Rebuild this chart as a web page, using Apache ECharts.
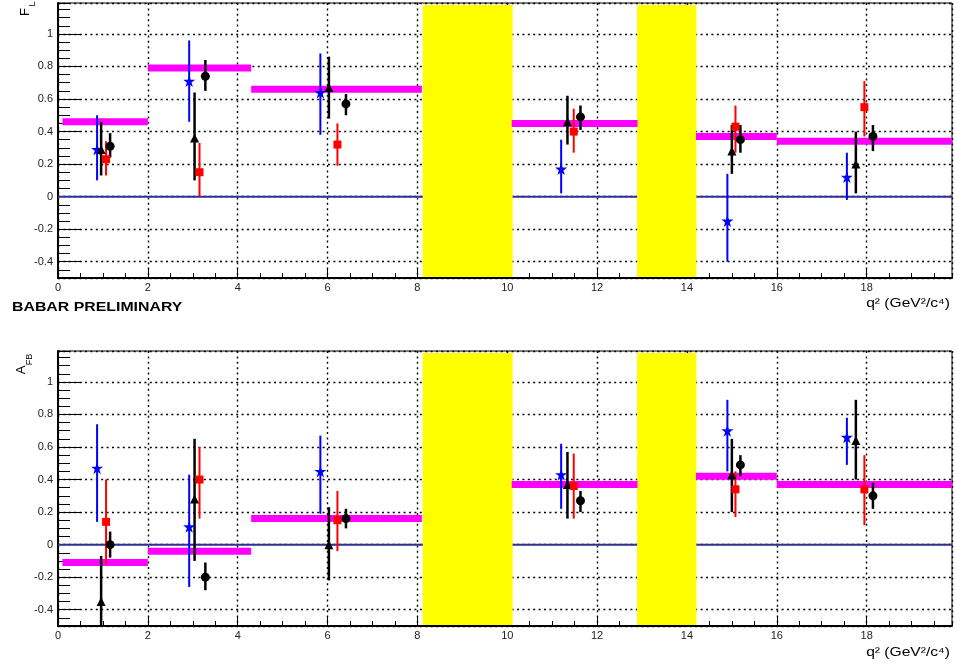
<!DOCTYPE html>
<html><head><meta charset="utf-8">
<script src="https://cdn.jsdelivr.net/npm/echarts@6/dist/echarts.min.js"></script>
<style>html,body{margin:0;padding:0;background:#fff}#c{width:957px;height:667px}</style>
</head><body><div id="c"></div>
<script>
// ---------- axis ranges ----------
const xMin = 0, xMax = 19.9;
const yMin = -0.5, yMax = 1.19;
const zeroRef = 0;

// ---------- q^2 bins of the prediction (magenta) ----------
const binLo = [0.1, 2.0, 4.3, 10.1, 14.2, 16.0];
const binHi = [2.0, 4.3, 8.1, 12.9, 16.0, 19.9];
const flPred  = [0.46, 0.79, 0.66, 0.45, 0.37, 0.34];
const afbPred = [-0.11, -0.04, 0.16, 0.37, 0.42, 0.37];

// ---------- vetoed regions (yellow) ----------
const vetoLo = [8.12, 12.89];
const vetoHi = [10.12, 14.21];

// ---------- x positions of the four measurements ----------
const starX = [0.87, 2.92, 5.84, 11.20, 14.90, 17.56];
const triX  = [0.96, 3.04, 6.03, 11.34, 15.00, 17.76];
const sqX   = [1.07, 3.15, 6.22, 11.48, 15.08, 17.95];
const circX = [1.16, 3.28, 6.41, 11.63, 15.19, 18.14];

// ---------- F_L ----------
const flStar   = [0.29, 0.71, 0.64, 0.17, -0.15, 0.12];
const flStarHi = [0.50, 0.96, 0.88, 0.35, 0.14, 0.27];
const flStarLo = [0.10, 0.46, 0.38, 0.02, -0.40, -0.02];
const flTri    = [0.29, 0.36, 0.67, 0.46, 0.28, 0.20];
const flTriHi  = [0.46, 0.64, 0.86, 0.62, 0.44, 0.40];
const flTriLo  = [0.13, 0.10, 0.48, 0.32, 0.14, 0.02];
const flSq     = [0.23, 0.15, 0.32, 0.40, 0.43, 0.55];
const flSqHi   = [0.34, 0.33, 0.45, 0.54, 0.56, 0.71];
const flSqLo   = [0.13, 0.00, 0.19, 0.27, 0.27, 0.37];
const flCirc   = [0.31, 0.74, 0.57, 0.49, 0.35, 0.37];
const flCircHi = [0.39, 0.84, 0.63, 0.56, 0.44, 0.44];
const flCircLo = [0.24, 0.65, 0.50, 0.41, 0.27, 0.28];

// ---------- A_FB ----------
const afbStar   = [0.47, 0.11, 0.45, 0.43, 0.70, 0.66];
const afbStarHi = [0.74, 0.43, 0.67, 0.62, 0.89, 0.78];
const afbStarLo = [0.14, -0.26, 0.19, 0.22, 0.45, 0.49];
const afbTri    = [-0.35, 0.28, 0.00, 0.37, 0.43, 0.64];
const afbTriHi  = [-0.07, 0.65, 0.23, 0.57, 0.65, 0.89];
const afbTriLo  = [-0.64, -0.10, -0.22, 0.16, 0.20, 0.40];
const afbSq     = [0.14, 0.40, 0.15, 0.36, 0.34, 0.34];
const afbSqHi   = [0.40, 0.60, 0.33, 0.56, 0.45, 0.55];
const afbSqLo   = [-0.12, 0.16, -0.04, 0.16, 0.17, 0.12];
const afbCirc   = [0.00, -0.20, 0.16, 0.27, 0.49, 0.30];
const afbCircHi = [0.08, -0.11, 0.22, 0.33, 0.55, 0.38];
const afbCircLo = [-0.08, -0.28, 0.10, 0.20, 0.42, 0.22];

// ---------- texts ----------
const xTitle = 'q² (GeV²/c⁴)';
const stamp = 'BABAR PRELIMINARY';

// ---------- helpers ----------
const FONT = '"Liberation Sans", Arial, Helvetica, sans-serif';
const STAR = 'path://M50,0 L61.2,34.5 L97.6,34.5 L68.2,55.9 L79.4,90.5 L50,69.1 L20.6,90.5 L31.8,55.9 L2.4,34.5 L38.8,34.5 Z';
const pts  = (xs, v) => xs.map((x, i) => [x, v[i]]);
const errs = (xs, lo, hi) => xs.map((x, i) => [x, lo[i], hi[i]]);
const GRIDLINE = { color: '#000', width: 1.4, type: [2, 3.4] };

function xAxes(gi) {
  return [
    { gridIndex: gi, type: 'value', min: xMin, max: xMax, interval: 2,
      axisLine: { show: true, onZero: false, lineStyle: { color: '#000', width: 2 } },
      axisTick: { show: true, inside: true, length: 9, lineStyle: { color: '#000', width: 1 } },
      minorTick: { show: false },
      axisLabel: { show: true, showMaxLabel: false, margin: 4, fontSize: 11, color: '#222', fontFamily: FONT },
      splitLine: { show: true, lineStyle: GRIDLINE } },
    { gridIndex: gi, type: 'value', min: xMin, max: xMax, interval: 0.5, position: 'bottom',
      axisLine: { show: false, onZero: false },
      axisTick: { show: true, inside: true, length: 5, lineStyle: { color: '#000', width: 1 } },
      axisLabel: { show: false }, splitLine: { show: false } }
  ];
}
function yAxes(gi) {
  return [
    { gridIndex: gi, type: 'value', min: yMin, max: yMax, splitNumber: 8, position: 'left',
      axisLine: { show: true, onZero: false, lineStyle: { color: '#000', width: 2 } },
      axisTick: { show: true, inside: true, length: 24, lineStyle: { color: '#000', width: 1 } },
      axisLabel: { show: true, showMinLabel: false, showMaxLabel: false, margin: 5, fontSize: 11, color: '#222', fontFamily: FONT },
      splitLine: { show: true, lineStyle: GRIDLINE } },
    { gridIndex: gi, type: 'value', min: yMin, max: yMax, interval: 0.05, position: 'left',
      axisLine: { show: false, onZero: false },
      axisTick: { show: true, inside: true, length: 12, lineStyle: { color: '#000', width: 1 } },
      axisLabel: { show: false }, splitLine: { show: false } }
  ];
}

function panelSeries(xi, yi, pred, d) {
  const s = [];
  // zero line
  s.push({ type: 'custom', xAxisIndex: xi, yAxisIndex: yi, z: 1, silent: true,
    data: [[xMin, zeroRef]],
    renderItem: (p, api) => {
      const a = api.coord([xMin, api.value(1)]), b = api.coord([xMax, api.value(1)]);
      return { type: 'line', shape: { x1: a[0], y1: a[1], x2: b[0], y2: b[1] },
        style: { stroke: '#30309a', lineWidth: 2 } };
    } });
  // vetoed regions
  s.push({ type: 'custom', xAxisIndex: xi, yAxisIndex: yi, z: 2, silent: true,
    data: vetoLo.map((v, i) => [v, vetoHi[i]]),
    renderItem: (p, api) => {
      const a = api.coord([api.value(0), yMax]), b = api.coord([api.value(1), yMin]);
      return { type: 'rect', shape: { x: a[0], y: a[1] + 2, width: b[0] - a[0], height: b[1] - a[1] - 3 },
        style: { fill: '#ffff00' } };
    } });
  // predictions
  s.push({ type: 'custom', xAxisIndex: xi, yAxisIndex: yi, z: 3, silent: true,
    data: binLo.map((v, i) => [v, binHi[i], pred[i]]),
    encode: { x: [0, 1], y: 2 },
    renderItem: (p, api) => {
      const a = api.coord([api.value(0), api.value(2)]), b = api.coord([api.value(1), api.value(2)]);
      return { type: 'rect', shape: { x: a[0], y: a[1] - 3.5, width: b[0] - a[0], height: 7 },
        style: { fill: '#ff00ff' } };
    } });
  // measurements
  d.forEach((m, k) => {
    s.push({ type: 'custom', xAxisIndex: xi, yAxisIndex: yi, z: 4 + k * 0.1, silent: true,
      data: errs(m.x, m.lo, m.hi), encode: { x: 0, y: [1, 2] },
      renderItem: (p, api) => {
        const a = api.coord([api.value(0), Math.min(api.value(2), yMax)]);
        const b = api.coord([api.value(0), Math.max(api.value(1), yMin)]);
        return { type: 'line', shape: { x1: a[0], y1: a[1], x2: b[0], y2: b[1] },
          style: { stroke: m.color, lineWidth: m.lw } };
      } });
    s.push({ type: 'scatter', xAxisIndex: xi, yAxisIndex: yi, z: 5 + k * 0.1, silent: true,
      symbol: m.symbol, symbolSize: m.size, itemStyle: { color: m.color, opacity: 1 },
      data: pts(m.x, m.v) });
  });
  return s;
}

const flData = [
  { x: starX, v: flStar, lo: flStarLo, hi: flStarHi, color: '#0000ff', symbol: STAR, size: 12, lw: 2 },
  { x: triX, v: flTri, lo: flTriLo, hi: flTriHi, color: '#000000', symbol: 'triangle', size: 9, lw: 2.5 },
  { x: sqX, v: flSq, lo: flSqLo, hi: flSqHi, color: '#ff0000', symbol: 'rect', size: 8, lw: 2 },
  { x: circX, v: flCirc, lo: flCircLo, hi: flCircHi, color: '#000000', symbol: 'circle', size: 9, lw: 2.5 }
];
const afbData = [
  { x: starX, v: afbStar, lo: afbStarLo, hi: afbStarHi, color: '#0000ff', symbol: STAR, size: 12, lw: 2 },
  { x: triX, v: afbTri, lo: afbTriLo, hi: afbTriHi, color: '#000000', symbol: 'triangle', size: 9, lw: 2.5 },
  { x: sqX, v: afbSq, lo: afbSqLo, hi: afbSqHi, color: '#ff0000', symbol: 'rect', size: 8, lw: 2 },
  { x: circX, v: afbCirc, lo: afbCircLo, hi: afbCircHi, color: '#000000', symbol: 'circle', size: 9, lw: 2.5 }
];

const chart = echarts.init(document.getElementById('c'), null, { renderer: 'canvas' });
chart.setOption({
  animation: false,
  backgroundColor: '#fff',
  grid: [
    { left: 58, top: 3, width: 894, height: 275, show: true, borderColor: '#000', borderWidth: 1, containLabel: false },
    { left: 58, top: 351, width: 894, height: 275, show: true, borderColor: '#000', borderWidth: 1, containLabel: false }
  ],
  xAxis: [...xAxes(0), ...xAxes(1)],
  yAxis: [...yAxes(0), ...yAxes(1)],
  series: [...panelSeries(0, 0, flPred, flData), ...panelSeries(2, 2, afbPred, afbData)],
  graphic: [
    { type: 'text', x: 25, y: 12, rotation: Math.PI / 2, style: { text: 'F', font: '13px ' + FONT, fill: '#000', align: 'center', verticalAlign: 'middle' } },
    { type: 'text', x: 33, y: 4, rotation: Math.PI / 2, style: { text: 'L', font: '9px ' + FONT, fill: '#000', align: 'center', verticalAlign: 'middle' } },
    { type: 'text', x: 21, y: 370, rotation: Math.PI / 2, style: { text: 'A', font: '13px ' + FONT, fill: '#000', align: 'center', verticalAlign: 'middle' } },
    { type: 'text', x: 30, y: 359.5, rotation: Math.PI / 2, style: { text: 'FB', font: '9px ' + FONT, fill: '#000', align: 'center', verticalAlign: 'middle' } },
    { type: 'text', x: 12, y: 307, scaleX: 1.22, style: { text: stamp, font: 'bold 13px ' + FONT, fill: '#000', align: 'left', verticalAlign: 'middle' } },
    { type: 'text', x: 950, y: 303, scaleX: 1.2, style: { text: xTitle, font: '13px ' + FONT, fill: '#000', align: 'right', verticalAlign: 'middle' } },
    { type: 'text', x: 950, y: 652, scaleX: 1.2, style: { text: xTitle, font: '13px ' + FONT, fill: '#000', align: 'right', verticalAlign: 'middle' } }
  ]
});
</script></body></html>
